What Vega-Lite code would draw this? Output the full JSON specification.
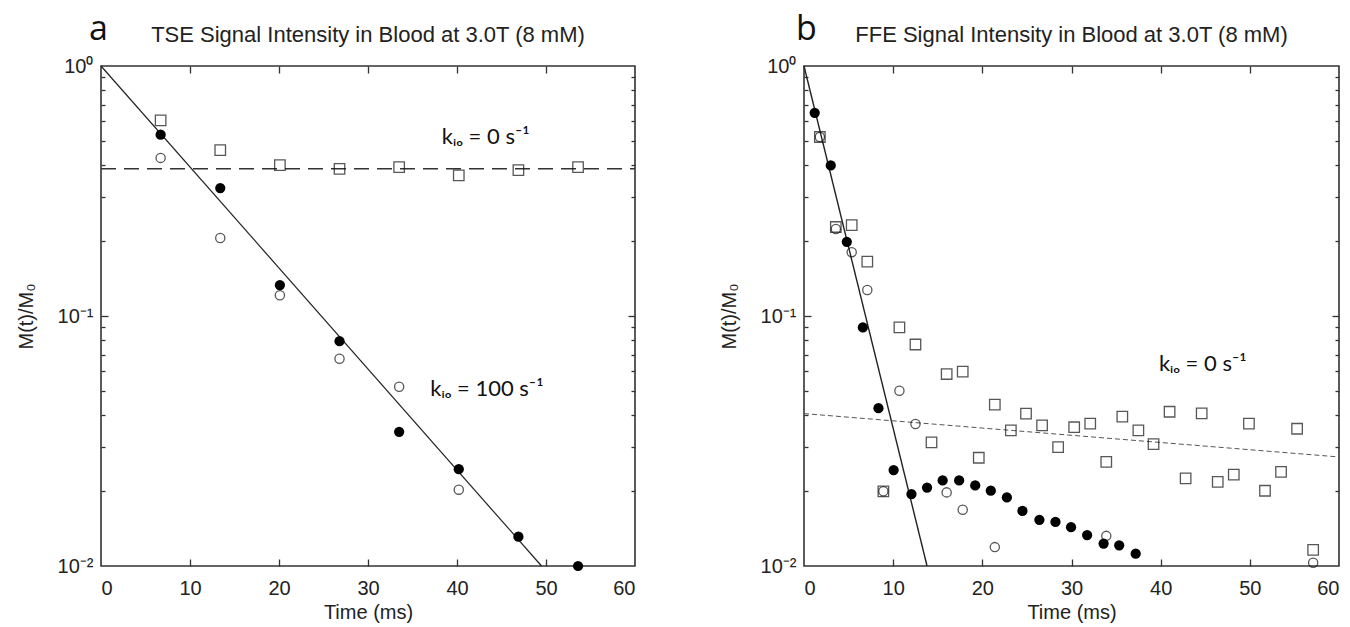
{
  "$schema": "https://vega.github.io/schema/vega-lite/v6.json",
  "padding": {"left": 15, "top": 12, "right": 0, "bottom": 0},
  "background": "white",
  "config": {
    "font": "Liberation Sans",
    "view": {"stroke": "#333", "strokeWidth": 1.6},
    "axis": {"grid": false, "labelColor": "#222", "titleColor": "#222", "titleFontWeight": "normal", "tickColor": "#333", "tickWidth": 1.3}
  },
  "datasets": {
    "a_pts": [
      {"series": "square", "t": 6.7, "v": 0.606}, {"series": "square", "t": 13.4, "v": 0.461}, {"series": "square", "t": 20.1, "v": 0.401}, {"series": "square", "t": 26.8, "v": 0.388},
      {"series": "square", "t": 33.5, "v": 0.394}, {"series": "square", "t": 40.2, "v": 0.365}, {"series": "square", "t": 46.9, "v": 0.383}, {"series": "square", "t": 53.6, "v": 0.394},
      {"series": "filled", "t": 6.7, "v": 0.531}, {"series": "filled", "t": 13.4, "v": 0.325}, {"series": "filled", "t": 20.1, "v": 0.133}, {"series": "filled", "t": 26.8, "v": 0.0793},
      {"series": "filled", "t": 33.5, "v": 0.0344}, {"series": "filled", "t": 40.2, "v": 0.0244}, {"series": "filled", "t": 46.9, "v": 0.0131}, {"series": "filled", "t": 53.6, "v": 0.0100},
      {"series": "open", "t": 6.7, "v": 0.429}, {"series": "open", "t": 13.4, "v": 0.205}, {"series": "open", "t": 20.1, "v": 0.121}, {"series": "open", "t": 26.8, "v": 0.0675},
      {"series": "open", "t": 33.5, "v": 0.0521}, {"series": "open", "t": 40.2, "v": 0.0202}
    ],
    "a_fit": [
      {"kind": "fit", "t": 0, "v": 1}, {"kind": "fit", "t": 49.5, "v": 0.01},
      {"kind": "k0", "t": 0, "v": 0.388}, {"kind": "k0", "t": 60, "v": 0.388}
    ],
    "a_txt": [
      {"kind": "ann", "t": 38.3, "v": 0.52, "label": "kᵢₒ = 0 s⁻¹"},
      {"kind": "ann", "t": 37.0, "v": 0.051, "label": "kᵢₒ = 100 s⁻¹"},
      {"kind": "panel", "t": 0, "v": 1, "label": "a"},
      {"kind": "title", "t": 30, "v": 1, "label": "TSE Signal Intensity in Blood at 3.0T (8 mM)"}
    ],
    "b_pts": [
      {"series": "filled", "t": 1.2, "v": 0.65}, {"series": "filled", "t": 3.0, "v": 0.40}, {"series": "filled", "t": 4.8, "v": 0.198}, {"series": "filled", "t": 6.6, "v": 0.090},
      {"series": "filled", "t": 8.35, "v": 0.0428}, {"series": "filled", "t": 10.05, "v": 0.0242}, {"series": "filled", "t": 12.05, "v": 0.0194}, {"series": "filled", "t": 13.8, "v": 0.0206},
      {"series": "filled", "t": 15.55, "v": 0.0220}, {"series": "filled", "t": 17.4, "v": 0.0220}, {"series": "filled", "t": 19.2, "v": 0.0210}, {"series": "filled", "t": 20.95, "v": 0.0200},
      {"series": "filled", "t": 22.75, "v": 0.0188}, {"series": "filled", "t": 24.5, "v": 0.0166}, {"series": "filled", "t": 26.4, "v": 0.0153}, {"series": "filled", "t": 28.2, "v": 0.0150},
      {"series": "filled", "t": 29.95, "v": 0.0143}, {"series": "filled", "t": 31.75, "v": 0.0133}, {"series": "filled", "t": 33.6, "v": 0.0123}, {"series": "filled", "t": 35.35, "v": 0.0121},
      {"series": "filled", "t": 37.2, "v": 0.0112},
      {"series": "square", "t": 1.78, "v": 0.52}, {"series": "square", "t": 3.57, "v": 0.227}, {"series": "square", "t": 5.35, "v": 0.231}, {"series": "square", "t": 7.1, "v": 0.165},
      {"series": "square", "t": 8.9, "v": 0.0199}, {"series": "square", "t": 10.7, "v": 0.090}, {"series": "square", "t": 12.5, "v": 0.0769}, {"series": "square", "t": 14.3, "v": 0.0312},
      {"series": "square", "t": 16.0, "v": 0.0586}, {"series": "square", "t": 17.8, "v": 0.0599}, {"series": "square", "t": 19.6, "v": 0.0271}, {"series": "square", "t": 21.4, "v": 0.0442},
      {"series": "square", "t": 23.2, "v": 0.0349}, {"series": "square", "t": 24.9, "v": 0.0407}, {"series": "square", "t": 26.7, "v": 0.0365}, {"series": "square", "t": 28.5, "v": 0.0299},
      {"series": "square", "t": 30.3, "v": 0.0359}, {"series": "square", "t": 32.1, "v": 0.0371}, {"series": "square", "t": 33.9, "v": 0.0261}, {"series": "square", "t": 35.7, "v": 0.0396},
      {"series": "square", "t": 37.5, "v": 0.0349}, {"series": "square", "t": 39.2, "v": 0.0307}, {"series": "square", "t": 41.0, "v": 0.0414}, {"series": "square", "t": 42.8, "v": 0.0224},
      {"series": "square", "t": 44.6, "v": 0.0408}, {"series": "square", "t": 46.4, "v": 0.0217}, {"series": "square", "t": 48.2, "v": 0.0232}, {"series": "square", "t": 49.9, "v": 0.0371},
      {"series": "square", "t": 51.7, "v": 0.0200}, {"series": "square", "t": 53.5, "v": 0.0238}, {"series": "square", "t": 55.3, "v": 0.0354}, {"series": "square", "t": 57.1, "v": 0.0116},
      {"series": "open", "t": 1.78, "v": 0.52}, {"series": "open", "t": 3.57, "v": 0.223}, {"series": "open", "t": 5.35, "v": 0.180}, {"series": "open", "t": 7.1, "v": 0.127},
      {"series": "open", "t": 8.9, "v": 0.0199}, {"series": "open", "t": 10.7, "v": 0.0502}, {"series": "open", "t": 12.5, "v": 0.037}, {"series": "open", "t": 16.0, "v": 0.0197},
      {"series": "open", "t": 17.8, "v": 0.0168}, {"series": "open", "t": 21.4, "v": 0.0119}, {"series": "open", "t": 33.9, "v": 0.0132}, {"series": "open", "t": 57.1, "v": 0.0103}
    ],
    "b_fit": [
      {"kind": "fit", "t": 0, "v": 1}, {"kind": "fit", "t": 13.8, "v": 0.01},
      {"kind": "k0", "t": 0, "v": 0.0407}, {"kind": "k0", "t": 60, "v": 0.0273}
    ],
    "b_txt": [
      {"kind": "ann", "t": 39.8, "v": 0.064, "label": "kᵢₒ = 0 s⁻¹"},
      {"kind": "panel", "t": 0, "v": 1, "label": "b"},
      {"kind": "title", "t": 30, "v": 1, "label": "FFE Signal Intensity in Blood at 3.0T (8 mM)"}
    ]
  },
  "hconcat": [
    {
      "width": 534,
      "height": 500,
      "layer": [
        {
          "data": {"name": "a_fit"},
          "transform": [{"filter": "datum.kind == 'fit'"}],
          "mark": {"type": "line", "color": "#222", "strokeWidth": 1.2},
          "encoding": {
            "x": {"field": "t", "type": "quantitative", "scale": {"domain": [0, 60], "nice": false, "zero": false},
                  "axis": {"orient": "bottom", "values": [0, 10, 20, 30, 40, 50, 60], "ticks": false, "domain": false, "labelPadding": 12, "labelFontSize": 20, "title": "Time (ms)", "titleFontSize": 20, "titlePadding": 4}},
            "y": {"field": "v", "type": "quantitative", "scale": {"type": "log", "domain": [0.01, 1], "nice": false},
                  "axis": {"orient": "left", "values": [0.01, 0.1, 1], "labelExpr": "datum.value >= 0.99 ? '10⁰' : datum.value >= 0.099 ? '10⁻¹' : '10⁻²'", "ticks": false, "domain": false, "labelPadding": 8, "labelFontSize": 20, "title": "M(t)/M₀", "titleFontSize": 20, "titleX": -75, "titleY": 250, "titleAngle": -90, "titleAlign": "center", "titleBaseline": "middle"}}
          }
        },
        {
          "data": {"name": "a_fit"},
          "transform": [{"filter": "datum.kind == 'k0'"}],
          "mark": {"type": "line", "color": "#333", "strokeWidth": 1.5, "strokeDash": [15, 8]},
          "encoding": {
            "x": {"field": "t", "type": "quantitative", "axis": {"orient": "bottom", "values": [10, 20, 30, 40, 50], "labels": false, "domain": false, "tickSize": -7, "title": null}},
            "y": {"field": "v", "type": "quantitative", "axis": {"orient": "left", "values": [0.1], "labels": false, "domain": false, "tickSize": -7, "title": null}}
          }
        },
        {
          "data": {"name": "a_pts"},
          "transform": [{"filter": "datum.series == 'open'"}],
          "mark": {"type": "point", "shape": "circle", "filled": false, "stroke": "#111", "strokeWidth": 1.3, "size": 85},
          "encoding": {
            "x": {"field": "t", "type": "quantitative", "axis": {"orient": "top", "values": [10, 20, 30, 40, 50], "labels": false, "domain": false, "tickSize": -7, "title": null}},
            "y": {"field": "v", "type": "quantitative", "axis": {"orient": "right", "values": [0.1], "labels": false, "domain": false, "tickSize": -7, "title": null}}
          }
        },
        {
          "data": {"name": "a_pts"},
          "transform": [{"filter": "datum.series == 'square'"}],
          "mark": {"type": "point", "shape": "square", "filled": false, "stroke": "#111", "strokeWidth": 1.3, "size": 110},
          "encoding": {
            "x": {"field": "t", "type": "quantitative", "axis": null},
            "y": {"field": "v", "type": "quantitative", "axis": {"orient": "left", "values": [0.02, 0.03, 0.04, 0.05, 0.06, 0.07, 0.08, 0.09, 0.2, 0.3, 0.4, 0.5, 0.6, 0.7, 0.8, 0.9], "labels": false, "domain": false, "tickSize": -4, "title": null}}
          }
        },
        {
          "data": {"name": "a_pts"},
          "transform": [{"filter": "datum.series == 'filled'"}],
          "mark": {"type": "point", "shape": "circle", "filled": true, "color": "#000", "opacity": 1, "size": 105},
          "encoding": {
            "x": {"field": "t", "type": "quantitative", "axis": null},
            "y": {"field": "v", "type": "quantitative", "axis": {"orient": "right", "values": [0.02, 0.03, 0.04, 0.05, 0.06, 0.07, 0.08, 0.09, 0.2, 0.3, 0.4, 0.5, 0.6, 0.7, 0.8, 0.9], "labels": false, "domain": false, "tickSize": -4, "title": null}}
          }
        },
        {
          "data": {"name": "a_txt"},
          "transform": [{"filter": "datum.kind == 'ann'"}],
          "mark": {"type": "text", "font": "Lato", "fontSize": 22, "align": "left", "baseline": "middle", "color": "#111"},
          "encoding": {
            "x": {"field": "t", "type": "quantitative", "axis": null},
            "y": {"field": "v", "type": "quantitative", "axis": null},
            "text": {"field": "label"}
          }
        },
        {
          "data": {"name": "a_txt"},
          "transform": [{"filter": "datum.kind == 'panel'"}],
          "mark": {"type": "text", "font": "Open Sans", "fontSize": 34, "align": "left", "baseline": "alphabetic", "color": "#111", "dx": -12, "dy": -26},
          "encoding": {
            "x": {"field": "t", "type": "quantitative", "axis": null},
            "y": {"field": "v", "type": "quantitative", "axis": null},
            "text": {"field": "label"}
          }
        },
        {
          "data": {"name": "a_txt"},
          "transform": [{"filter": "datum.kind == 'title'"}],
          "mark": {"type": "text", "font": "Liberation Sans", "fontSize": 22, "align": "center", "baseline": "alphabetic", "color": "#222", "dy": -24},
          "encoding": {
            "x": {"field": "t", "type": "quantitative", "axis": null},
            "y": {"field": "v", "type": "quantitative", "axis": null},
            "text": {"field": "label"}
          }
        }
      ],
      "resolve": {"axis": {"x": "independent", "y": "independent"}}
    },
    {
      "width": 535,
      "height": 500,
      "layer": [
        {
          "data": {"name": "b_fit"},
          "transform": [{"filter": "datum.kind == 'fit'"}],
          "mark": {"type": "line", "color": "#222", "strokeWidth": 1.4},
          "encoding": {
            "x": {"field": "t", "type": "quantitative", "scale": {"domain": [0, 60], "nice": false, "zero": false},
                  "axis": {"orient": "bottom", "values": [0, 10, 20, 30, 40, 50, 60], "ticks": false, "domain": false, "labelPadding": 12, "labelFontSize": 20, "title": "Time (ms)", "titleFontSize": 20, "titlePadding": 4}},
            "y": {"field": "v", "type": "quantitative", "scale": {"type": "log", "domain": [0.01, 1], "nice": false},
                  "axis": {"orient": "left", "values": [0.01, 0.1, 1], "labelExpr": "datum.value >= 0.99 ? '10⁰' : datum.value >= 0.099 ? '10⁻¹' : '10⁻²'", "ticks": false, "domain": false, "labelPadding": 8, "labelFontSize": 20, "title": "M(t)/M₀", "titleFontSize": 20, "titleX": -75, "titleY": 250, "titleAngle": -90, "titleAlign": "center", "titleBaseline": "middle"}}
          }
        },
        {
          "data": {"name": "b_fit"},
          "transform": [{"filter": "datum.kind == 'k0'"}],
          "mark": {"type": "line", "color": "#555", "strokeWidth": 1, "strokeDash": [5, 3]},
          "encoding": {
            "x": {"field": "t", "type": "quantitative", "axis": {"orient": "bottom", "values": [10, 20, 30, 40, 50], "labels": false, "domain": false, "tickSize": -7, "title": null}},
            "y": {"field": "v", "type": "quantitative", "axis": {"orient": "left", "values": [0.1], "labels": false, "domain": false, "tickSize": -7, "title": null}}
          }
        },
        {
          "data": {"name": "b_pts"},
          "transform": [{"filter": "datum.series == 'open'"}],
          "mark": {"type": "point", "shape": "circle", "filled": false, "stroke": "#111", "strokeWidth": 1.3, "size": 85},
          "encoding": {
            "x": {"field": "t", "type": "quantitative", "axis": {"orient": "top", "values": [10, 20, 30, 40, 50], "labels": false, "domain": false, "tickSize": -7, "title": null}},
            "y": {"field": "v", "type": "quantitative", "axis": {"orient": "right", "values": [0.1], "labels": false, "domain": false, "tickSize": -7, "title": null}}
          }
        },
        {
          "data": {"name": "b_pts"},
          "transform": [{"filter": "datum.series == 'square'"}],
          "mark": {"type": "point", "shape": "square", "filled": false, "stroke": "#111", "strokeWidth": 1.3, "size": 110},
          "encoding": {
            "x": {"field": "t", "type": "quantitative", "axis": null},
            "y": {"field": "v", "type": "quantitative", "axis": {"orient": "left", "values": [0.02, 0.03, 0.04, 0.05, 0.06, 0.07, 0.08, 0.09, 0.2, 0.3, 0.4, 0.5, 0.6, 0.7, 0.8, 0.9], "labels": false, "domain": false, "tickSize": -4, "title": null}}
          }
        },
        {
          "data": {"name": "b_pts"},
          "transform": [{"filter": "datum.series == 'filled'"}],
          "mark": {"type": "point", "shape": "circle", "filled": true, "color": "#000", "opacity": 1, "size": 105},
          "encoding": {
            "x": {"field": "t", "type": "quantitative", "axis": null},
            "y": {"field": "v", "type": "quantitative", "axis": {"orient": "right", "values": [0.02, 0.03, 0.04, 0.05, 0.06, 0.07, 0.08, 0.09, 0.2, 0.3, 0.4, 0.5, 0.6, 0.7, 0.8, 0.9], "labels": false, "domain": false, "tickSize": -4, "title": null}}
          }
        },
        {
          "data": {"name": "b_txt"},
          "transform": [{"filter": "datum.kind == 'ann'"}],
          "mark": {"type": "text", "font": "Lato", "fontSize": 22, "align": "left", "baseline": "middle", "color": "#111"},
          "encoding": {
            "x": {"field": "t", "type": "quantitative", "axis": null},
            "y": {"field": "v", "type": "quantitative", "axis": null},
            "text": {"field": "label"}
          }
        },
        {
          "data": {"name": "b_txt"},
          "transform": [{"filter": "datum.kind == 'panel'"}],
          "mark": {"type": "text", "font": "Open Sans", "fontSize": 34, "align": "left", "baseline": "alphabetic", "color": "#111", "dx": -8, "dy": -26},
          "encoding": {
            "x": {"field": "t", "type": "quantitative", "axis": null},
            "y": {"field": "v", "type": "quantitative", "axis": null},
            "text": {"field": "label"}
          }
        },
        {
          "data": {"name": "b_txt"},
          "transform": [{"filter": "datum.kind == 'title'"}],
          "mark": {"type": "text", "font": "Liberation Sans", "fontSize": 22, "align": "center", "baseline": "alphabetic", "color": "#222", "dy": -24},
          "encoding": {
            "x": {"field": "t", "type": "quantitative", "axis": null},
            "y": {"field": "v", "type": "quantitative", "axis": null},
            "text": {"field": "label"}
          }
        }
      ],
      "resolve": {"axis": {"x": "independent", "y": "independent"}}
    }
  ],
  "spacing": 169,
  "bounds": "flush"
}
